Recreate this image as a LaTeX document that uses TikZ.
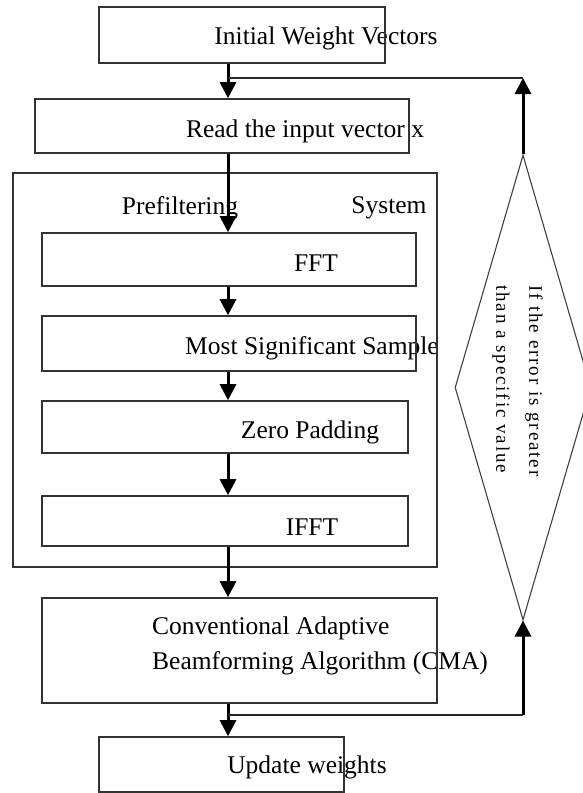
\documentclass[tikz,border=0pt]{standalone}
\usepackage{fontspec}
\setmainfont{Liberation Serif}
\usetikzlibrary{arrows.meta,shapes.geometric}

\begin{document}
\begin{tikzpicture}[x=1pt, y=-1pt,
        block/.style={draw=black!80, line width=1.6pt, inner sep=0pt},
        txt/.style={inner sep=0pt, font=\fontsize{25.5}{35}\selectfont},
        flow/.style={-{Triangle[width=16pt,length=16pt]}, line width=3pt},
        link/.style={line width=1.8pt, black!85}]
        \useasboundingbox (0,0) rectangle (582,793);

        % texts first, the boxes are drawn over them
        \node[txt] (initt) at (326,38) {Initial Weight Vectors};
        \node[txt] (readt) at (305,131) {Read the input vector x};
        \node[txt] (pret) at (180,208) {Prefiltering};
        \node[txt] (syst) at (389,208) {System};
        \node[txt] (fftt) at (316,263) {FFT};
        \node[txt] (msst) at (312,348) {Most Significant Sample};
        \node[txt] (zpt) at (310,432) {Zero Padding};
        \node[txt] (ifftt) at (312,527) {IFFT};
        \node[txt, anchor=west, align=left] (cmat) at (152,645.5)
            {Conventional Adaptive\\Beamforming Algorithm (CMA)};
        \node[txt] (updt) at (307,767) {Update weights};

        % boxes
        \node[block, minimum width=286pt, minimum height=56pt] (init) at (242,35) {};
        \node[block, minimum width=374pt, minimum height=54pt] (read) at (222,126) {};
        \node[block, minimum width=424pt, minimum height=394pt] (pre) at (225,370) {};
        \node[block, minimum width=374pt, minimum height=53pt] (fft) at (229,259.5) {};
        \node[block, minimum width=374pt, minimum height=55pt] (mss) at (229,343.5) {};
        \node[block, minimum width=366pt, minimum height=52pt] (zp) at (225,427) {};
        \node[block, minimum width=366pt, minimum height=50pt] (ifft) at (225,521) {};
        \node[block, minimum width=395pt, minimum height=105pt] (cma) at (239.5,650.5) {};
        \node[block, minimum width=245pt, minimum height=55pt] (upd) at (221.5,764.5) {};

        % error check
        \node[diamond, draw=black!75, line width=1.1pt, inner sep=0pt,
            minimum width=136pt, minimum height=465pt] (check) at (523,387.5) {};
        \node[anchor=west, rotate=-90, align=left, inner sep=0pt,
            font=\fontsize{19}{33}\selectfont\addfontfeature{LetterSpace=10}] (checkt)
            at (517.5,285) {If the error is greater\\than a specific value};

        % main flow
        \coordinate (spine) at (228,0);
        \coordinate (jtop) at (228,78);
        \coordinate (jlow) at (228,715);
        \draw[flow] (init.south -| spine) -- (read.north -| spine);
        \draw[flow] (read.south -| spine) -- (fft.north -| spine);
        \draw[flow] (fft.south -| spine) -- (mss.north -| spine);
        \draw[flow] (mss.south -| spine) -- (zp.north -| spine);
        \draw[flow] (zp.south -| spine) -- (ifft.north -| spine);
        \draw[flow] (ifft.south -| spine) -- (cma.north -| spine);
        \draw[flow] (cma.south -| spine) -- (upd.north -| spine);

        % feedback loop
        \draw[link] (jlow) -- (jlow -| check.south);
        \draw[flow] (jlow -| check.south) -- (check.south);
        \draw[flow] (check.north) -- (check.north |- jtop);
        \draw[link] (jtop) -- (check.north |- jtop);
    \end{tikzpicture}
\end{document}
